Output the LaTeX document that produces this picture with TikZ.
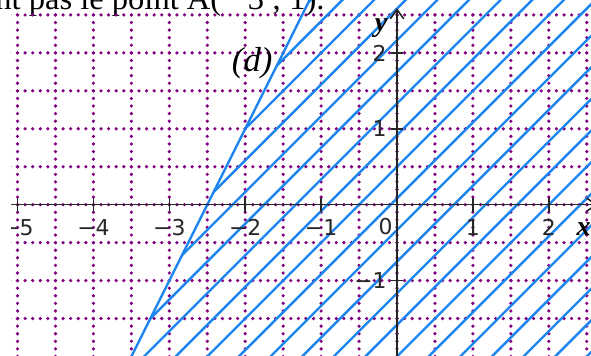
\documentclass[tikz,border=0pt]{standalone}
\usepackage{fontspec}
\setmainfont{Liberation Serif}
\newfontfamily\lblfont{DejaVu Sans}
\usetikzlibrary{arrows.meta}
\definecolor{gridpurple}{RGB}{128,0,128}
\definecolor{hatchblue}{RGB}{28,134,238}
\begin{document}
\begin{tikzpicture}[x=1cm,y=1cm,
  gridline/.style={gridpurple, line width=1.35pt, line cap=round, dash pattern=on 0pt off 0.1cm},
  axisline/.style={black!85, line width=0.6pt},
  hatchline/.style={hatchblue, line width=0.9pt},
  ticklbl/.style={font=\lblfont\fontsize{8.2}{9}\selectfont, text=black!85, inner sep=0pt},
  axislbl/.style={font=\bfseries\itshape\fontsize{10.5}{12}\selectfont, inner sep=0pt},
]
\useasboundingbox (-5.231,-1.987) rectangle (2.556,2.697);
\clip (-5.231,-1.987) rectangle (2.556,2.697);

% top text (cut off)
\node[anchor=base east, inner sep=0pt, font=\fontsize{12.2}{14}\selectfont] (txt) at (-0.947,2.572) {nt pas le point A(− 3 ; 1).};

\begin{scope}
\clip (-5.08,-2.2) rectangle (2.8,2.9);

% grid
\foreach \x in {-5,-4.5,...,2.5} \draw[gridline] (\x,2.5) -- (\x,-2.1);
\foreach \y in {2.5,2,...,-1.5} \draw[gridline] (-5.1,\y) -- (2.7,\y);

% line (d): y = 2x + 5
\coordinate (dA) at (-3.55,-2.1);
\coordinate (dB) at (-1.1,2.8);
\begin{scope}
\clip (dA) -- (dB) -- (2.8,2.8) -- (2.8,-2.1) -- cycle;
\foreach \k in {-2,...,19} {
  \pgfmathsetmacro\cc{-3+5*\k/12}
  \draw[hatchline] (-6,{-6-\cc}) -- (4,{4-\cc});
}
\end{scope}
\draw[hatchline] (dA) -- (dB);

% axes
\coordinate (xs) at (-5.08,0);
\coordinate (xe) at (2.64,0);
\coordinate (ys) at (0,-2.1);
\coordinate (ye) at (0,2.59);
\draw[axisline,-{Straight Barb[length=3.5pt,width=5pt]}] (xs) -- (xe);
\draw[axisline,-{Straight Barb[length=3.5pt,width=5pt]}] (ys) -- (ye);

% ticks and labels
\foreach \x/\t in {-5/−5,-4/−4,-3/−3,-2/−2,-1/−1,1/1,2/2} {
  \draw[axisline] (\x,-0.09) -- (\x,0.09);
  \node[ticklbl, anchor=north] (xl\x) at (\x,-0.19) {\t};
}
\foreach \y/\t in {-1/−1,1/1,2/2} {
  \draw[axisline] (-0.08,\y) -- (0.08,\y);
  \node[ticklbl, anchor=east] (yl\y) at (-0.13,\y) {\t};
}
\node[ticklbl, anchor=north east] (zero) at (-0.053,-0.171) {0};

% axis names
\node[axislbl] (ylab) at (-0.21,2.33) {y};
\node[axislbl] (xlab) at (2.46,-0.32) {x};

% label of (d)
\node[font=\itshape\fontsize{13}{15}\selectfont, inner sep=0pt] (dlab) at (-1.908,1.868) {(d)};
\end{scope}
\end{tikzpicture}
\end{document}
